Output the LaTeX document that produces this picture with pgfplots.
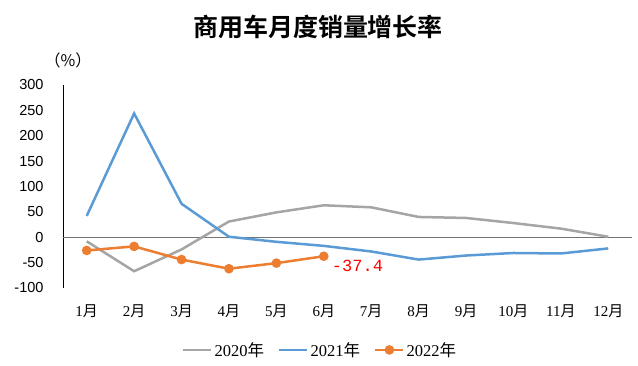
\documentclass[border=0pt]{standalone}
\usepackage{pgfplots}
\pgfplotsset{compat=1.18}
\usepackage{fontspec}
\setmainfont{Liberation Serif}
\newfontfamily\cjk{Noto Sans CJK SC}
\newfontfamily\cjkb{Noto Sans CJK SC Bold}
\newfontfamily\arial{Liberation Sans}
\newfontfamily\mono{Liberation Mono}
\definecolor{c20}{HTML}{A5A5A5}
\definecolor{c21}{HTML}{5B9BD5}
\definecolor{c22}{HTML}{ED7D31}
\begin{document}
\begin{tikzpicture}
\path[use as bounding box] (-63pt,-77pt) rectangle (575pt,288pt);
\begin{axis}[
  at={(0,0)}, anchor=south west,
  scale only axis, width=569pt, height=203pt,
  xmin=0.5, xmax=12.5, ymin=-100, ymax=300,
  axis x line*=bottom,
  x axis line style={draw=none},
  axis y line*=left,
  y axis line style={-, line width=0.8pt, black},
  xtick={1,...,12},
  xticklabels={1{\cjk 月},2{\cjk 月},3{\cjk 月},4{\cjk 月},5{\cjk 月},6{\cjk 月},7{\cjk 月},8{\cjk 月},9{\cjk 月},10{\cjk 月},11{\cjk 月},12{\cjk 月}},
  xticklabel style={font=\fontsize{15}{17}\selectfont, anchor=center, yshift=-23pt},
  ytick={-100,-50,0,50,100,150,200,250,300},
  major tick length=0pt,
  yticklabel style={font=\arial\fontsize{14.5}{17}\selectfont, xshift=-16pt},
  /pgf/number format/assume math mode=true,
  extra y ticks={0},
  extra y tick labels={},
  extra y tick style={grid=major, major grid style={draw=black!55, line width=1pt}},
  clip=false,
  legend style={at={(0.452,-0.305)}, anchor=center, draw=none, fill=none,
    font=\fontsize{16.5}{19}\selectfont, legend columns=3,
    /tikz/every odd column/.append style={column sep=0pt},
    /tikz/every even column/.append style={column sep=12pt}},
  legend cell align=left,
  legend image code/.code={\draw[mark repeat=2,mark phase=2,#1] plot coordinates {(0pt,0pt) (14pt,0pt) (28pt,0pt)};},
]
\addplot[c20, line width=2.5pt, mark=none] coordinates {
 (1,-8) (2,-67) (3,-24) (4,31) (5,49) (6,63) (7,59) (8,40) (9,38) (10,28) (11,17) (12,1)};
\addlegendentry{2020{\cjk 年}}
\addplot[c21, line width=2.5pt, mark=none] coordinates {
 (1,42) (2,244) (3,66) (4,1) (5,-9) (6,-17) (7,-28) (8,-44) (9,-36) (10,-31) (11,-32) (12,-22)};
\addlegendentry{2021{\cjk 年}}
\addplot[c22, line width=2.5pt, mark=*, mark size=3.5pt, mark options={fill=c22, draw=c22}] coordinates {
 (1,-26) (2,-18) (3,-44) (4,-62) (5,-51) (6,-37.4)};
\addlegendentry{2022{\cjk 年}}
\node[anchor=north west, text=red, font=\mono\fontsize{17}{19}\selectfont, inner sep=0pt, xshift=8pt, yshift=-4pt] at (axis cs:6,-37.4) {-37.4};
\end{axis}
\node[font=\cjkb\fontsize{25}{28}\selectfont] at (255pt,261pt) {商用车月度销量增长率};
\node[font=\cjk\fontsize{16}{18}\selectfont] at (5pt,228pt) {（\%）};
\end{tikzpicture}
\end{document}
